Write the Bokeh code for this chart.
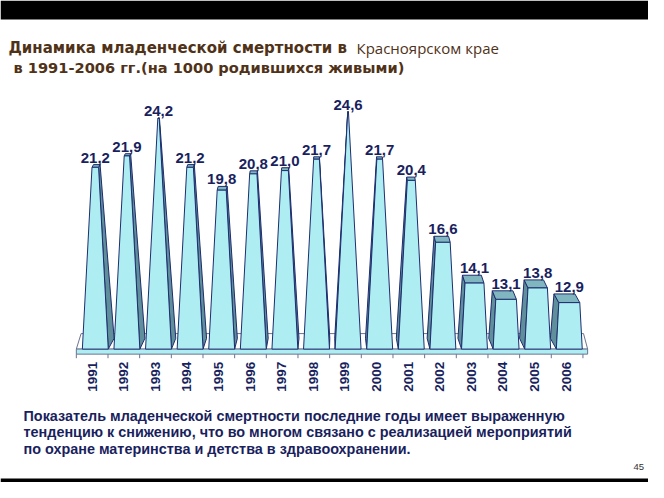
import math
from bokeh.plotting import figure
from bokeh.models import Label, BoxAnnotation, ColumnDataSource, Range1d
from bokeh.core.properties import value
from bokeh.embed import file_html
from bokeh.resources import INLINE

# ---- data ----
years = ["1991", "1992", "1993", "1994", "1995", "1996", "1997", "1998",
         "1999", "2000", "2001", "2002", "2003", "2004", "2005", "2006"]
rates = [21.2, 21.9, 24.2, 21.2, 19.8, 20.8, 21.0, 21.7,
         24.6, 21.7, 20.4, 16.6, 14.1, 13.1, 13.8, 12.9]
rate_labels = ["21,2", "21,9", "24,2", "21,2", "19,8", "20,8", "21,0", "21,7",
               "24,6", "21,7", "20,4", "16,6", "14,1", "13,1", "13,8", "12,9"]

title_1a = "Динамика младенческой смертности в"
title_1b = "Красноярском крае"
title_2 = "в 1991-2006 гг.(на 1000 родившихся живыми)"
note_lines = [
    "Показатель младенческой смертности последние годы имеет выраженную",
    "тенденцию к снижению, что во многом связано с реализацией мероприятий",
    "по охране материнства и детства в здравоохранении.",
]
page_no = "45"

# ---- geometry / style ----
W, H = 648, 482
PX_X = 31.6          # pixels per category
X0 = 94.8            # canvas x of first category centre
PX_Y = 16.3          # pixels per unit of rate
Y_TOP = 512.4        # canvas-from-top y of value 0
BASE = 10.05         # axis minimum (floor)
APEX = 25.0          # axis maximum (pyramid apex)
HALF = 0.41          # half base width (categories)
DEPTH_Y = 0.66       # depth offset (rate units)
DX_K = 0.025
IC = 7.44

FRONT = "#aeeef3"
TOPC = "#7fb6bf"
SIDE = "#5f8f9a"
EDGE = "#1e2d6e"
NAVY = "#1a1f5e"
BROWN = "#4f3218"

p = figure(width=W, height=H,
           x_range=Range1d(-X0 / PX_X, (W - X0) / PX_X),
           y_range=Range1d((Y_TOP - H) / PX_Y, Y_TOP / PX_Y),
           output_backend="svg", toolbar_location=None,
           x_axis_location=None, y_axis_location=None,
           min_border=0, outline_line_color=None,
           background_fill_color="white", border_fill_color="white")
p.xgrid.visible = False
p.ygrid.visible = False

n = len(years)
idx = list(range(n))

# floor
left_e, right_e = -0.6, n - 1 + 0.58
p.patch([left_e, right_e, right_e - 0.13, left_e + 0.15],
        [BASE, BASE, BASE + 0.95, BASE + 0.95],
        fill_color="white", line_color="#6b7390", line_width=1)
p.quad(left=[left_e], right=[right_e], bottom=[BASE - 0.31], top=[BASE],
       fill_color=FRONT, line_color="#6b7390", line_width=1)
tick_x = [left_e + k * 1.002 for k in range(n + 1)]
p.segment(x0=tick_x, y0=[BASE - 0.31] * len(tick_x), x1=tick_x,
          y1=[BASE - 0.56] * len(tick_x), line_color="#6b7390", line_width=1)

# bars (3D truncated pyramids)
front_xs, front_ys, top_xs, top_ys, side_xs, side_ys = [], [], [], [], [], []
lab_y = []
for i, v in zip(idx, rates):
    t = HALF * (APEX - v) / (APEX - BASE)
    s = t / HALF
    dx = -DX_K * (i - IC)
    dy = DEPTH_Y
    front_xs.append([i - HALF, i + HALF, i + t, i - t])
    front_ys.append([BASE, BASE, v, v])
    top_xs.append([i - t, i + t, i + t + dx * s, i - t + dx * s])
    top_ys.append([v, v, v + dy * s, v + dy * s])
    if dx >= 0:
        side_xs.append([i + HALF, i + t, i + t + dx * s, i + HALF + dx])
    else:
        side_xs.append([i - HALF, i - t, i - t + dx * s, i - HALF + dx])
    side_ys.append([BASE, v, v + dy * s, BASE + dy])
    lab_y.append(v + dy * s)

p.patches(side_xs, side_ys, fill_color=SIDE, line_color=EDGE, line_width=1)
p.patches(top_xs, top_ys, fill_color=TOPC, line_color=EDGE, line_width=1)
p.patches(front_xs, front_ys, fill_color=FRONT, line_color=EDGE, line_width=1)

src = ColumnDataSource(dict(x=idx, y=lab_y, lab=rate_labels))
p.text(x="x", y="y", text="lab", source=src, text_align="center",
       text_baseline="bottom", y_offset=-2, text_color=NAVY,
       text_font=value("Liberation Sans"), text_font_style="bold",
       text_font_size="15px")

ysrc = ColumnDataSource(dict(x=[i - 0.1 for i in idx], y=[BASE - 0.78] * n, lab=years))
p.text(x="x", y="y", text="lab", source=ysrc, angle=math.pi / 2,
       text_align="right", text_baseline="middle", text_color=NAVY,
       text_font=value("Liberation Sans"), text_font_style="bold",
       text_font_size="13.5px")

# black bands
p.add_layout(BoxAnnotation(top=H, bottom=H - 19, top_units="screen", bottom_units="screen",
                           fill_color="black", fill_alpha=1, line_color=None))
p.add_layout(BoxAnnotation(top=4, bottom=0, top_units="screen", bottom_units="screen",
                           fill_color="black", fill_alpha=1, line_color=None))


def lab(x, y, text, font, size, color, style="bold"):
    p.add_layout(Label(x=x, y=y, x_units="screen", y_units="screen", text=text,
                       text_font=font, text_font_size=size, text_font_style=style,
                       text_color=color, text_baseline="alphabetic"))


lab(8, 435, title_1a, "DejaVu Sans", "15px", BROWN)
lab(356, 435, title_1b, "Open Sans", "15px", BROWN, "normal")
lab(13, 415, title_2, "DejaVu Sans", "14.6px", BROWN)

for k, line in enumerate(note_lines):
    lab(23, 67 - 16.8 * k, line, "Liberation Sans", "14.4px", NAVY)

lab(633, 16, page_no, "Liberation Sans", "9.5px", "#333333", "normal")

open("out.html", "w").write(file_html(p, INLINE))
